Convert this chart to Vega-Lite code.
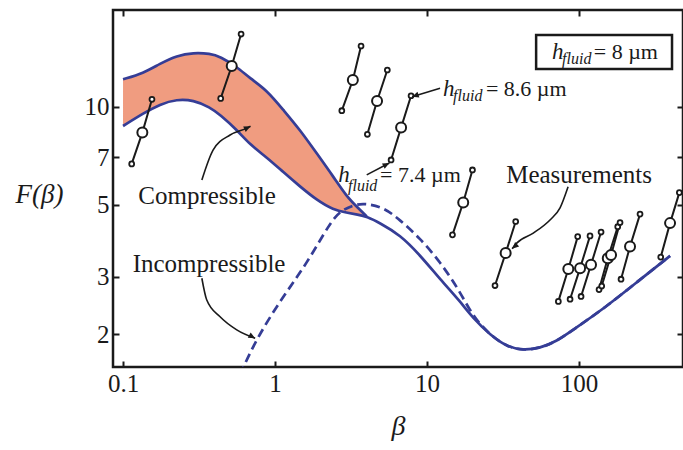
{
  "$schema": "https://vega.github.io/schema/vega-lite/v6.json",
  "width": 570,
  "height": 357,
  "autosize": "none",
  "padding": {"left": 113, "top": 10, "right": 0, "bottom": 83},
  "background": "white",
  "config": {
    "view": {"stroke": "#1a1a1a", "strokeWidth": 2.5},
    "axis": {
      "grid": false,
      "domain": false,
      "labelFont": "Liberation Serif",
      "labelFontSize": 25,
      "labelColor": "#1a1a1a",
      "tickColor": "#1a1a1a",
      "tickWidth": 2,
      "tickSize": -6,
      "titleFont": "Liberation Serif",
      "titleFontStyle": "italic",
      "titleFontWeight": "normal",
      "titleFontSize": 27,
      "titleColor": "#1a1a1a"
    },
    "text": {"font": "Liberation Serif", "color": "#1a1a1a"}
  },
  "datasets": {
    "band": [
      {"beta": 0.1, "lo": 8.74, "hi": 12.17},
      {"beta": 0.136, "lo": 9.56, "hi": 12.7},
      {"beta": 0.175, "lo": 10.2, "hi": 13.6},
      {"beta": 0.226, "lo": 10.56, "hi": 14.4},
      {"beta": 0.29, "lo": 10.5, "hi": 14.7},
      {"beta": 0.374, "lo": 9.98, "hi": 14.6},
      {"beta": 0.435, "lo": 9.46, "hi": 14.3},
      {"beta": 0.56, "lo": 8.51, "hi": 13.3},
      {"beta": 0.685, "lo": 7.65, "hi": 12.25},
      {"beta": 0.882, "lo": 7.0, "hi": 11.28},
      {"beta": 1.134, "lo": 6.3, "hi": 9.79},
      {"beta": 1.46, "lo": 5.69, "hi": 8.5},
      {"beta": 1.88, "lo": 5.17, "hi": 7.2},
      {"beta": 2.42, "lo": 4.82, "hi": 6.1},
      {"beta": 2.96, "lo": 4.73, "hi": 5.3},
      {"beta": 3.5, "lo": 4.66, "hi": 4.9},
      {"beta": 4.01, "lo": 4.6, "hi": 4.6}
    ],
    "curves": [
      {"series": "upper", "beta": 0.1, "F": 12.17},
      {"series": "upper", "beta": 0.136, "F": 12.7},
      {"series": "upper", "beta": 0.175, "F": 13.6},
      {"series": "upper", "beta": 0.226, "F": 14.4},
      {"series": "upper", "beta": 0.29, "F": 14.7},
      {"series": "upper", "beta": 0.374, "F": 14.6},
      {"series": "upper", "beta": 0.435, "F": 14.3},
      {"series": "upper", "beta": 0.56, "F": 13.3},
      {"series": "upper", "beta": 0.685, "F": 12.25},
      {"series": "upper", "beta": 0.882, "F": 11.28},
      {"series": "upper", "beta": 1.134, "F": 9.79},
      {"series": "upper", "beta": 1.46, "F": 8.5},
      {"series": "upper", "beta": 1.88, "F": 7.2},
      {"series": "upper", "beta": 2.42, "F": 6.1},
      {"series": "upper", "beta": 2.96, "F": 5.3},
      {"series": "upper", "beta": 3.5, "F": 4.9},
      {"series": "upper", "beta": 4.01, "F": 4.6},
      {"series": "lower", "beta": 0.1, "F": 8.74},
      {"series": "lower", "beta": 0.136, "F": 9.56},
      {"series": "lower", "beta": 0.175, "F": 10.2},
      {"series": "lower", "beta": 0.226, "F": 10.56},
      {"series": "lower", "beta": 0.29, "F": 10.5},
      {"series": "lower", "beta": 0.374, "F": 9.98},
      {"series": "lower", "beta": 0.435, "F": 9.46},
      {"series": "lower", "beta": 0.56, "F": 8.51},
      {"series": "lower", "beta": 0.685, "F": 7.65},
      {"series": "lower", "beta": 0.882, "F": 7.0},
      {"series": "lower", "beta": 1.134, "F": 6.3},
      {"series": "lower", "beta": 1.46, "F": 5.69},
      {"series": "lower", "beta": 1.88, "F": 5.17},
      {"series": "lower", "beta": 2.42, "F": 4.82},
      {"series": "lower", "beta": 2.96, "F": 4.73},
      {"series": "lower", "beta": 3.5, "F": 4.66},
      {"series": "lower", "beta": 4.01, "F": 4.6},
      {"series": "lower", "beta": 4.91, "F": 4.39},
      {"series": "lower", "beta": 6.64, "F": 4.04},
      {"series": "lower", "beta": 8.99, "F": 3.5},
      {"series": "lower", "beta": 12.18, "F": 2.95},
      {"series": "lower", "beta": 16.5, "F": 2.52},
      {"series": "lower", "beta": 20.07, "F": 2.24},
      {"series": "lower", "beta": 25.97, "F": 1.99},
      {"series": "lower", "beta": 33.4, "F": 1.83},
      {"series": "lower", "beta": 42.8, "F": 1.78},
      {"series": "lower", "beta": 55.4, "F": 1.81},
      {"series": "lower", "beta": 71.3, "F": 1.9},
      {"series": "lower", "beta": 91.3, "F": 2.06},
      {"series": "lower", "beta": 148.3, "F": 2.41},
      {"series": "lower", "beta": 251.9, "F": 2.94},
      {"series": "lower", "beta": 397, "F": 3.48},
      {"series": "incompressible", "beta": 0.588, "F": 1.5},
      {"series": "incompressible", "beta": 0.761, "F": 1.95},
      {"series": "incompressible", "beta": 1.13, "F": 2.61},
      {"series": "incompressible", "beta": 1.62, "F": 3.3},
      {"series": "incompressible", "beta": 2.3, "F": 4.4},
      {"series": "incompressible", "beta": 2.68, "F": 4.78},
      {"series": "incompressible", "beta": 3.3, "F": 5.0},
      {"series": "incompressible", "beta": 3.9, "F": 5.05},
      {"series": "incompressible", "beta": 5.16, "F": 4.92},
      {"series": "incompressible", "beta": 6.64, "F": 4.49},
      {"series": "incompressible", "beta": 8.99, "F": 3.94},
      {"series": "incompressible", "beta": 12.18, "F": 3.34},
      {"series": "incompressible", "beta": 16.5, "F": 2.7},
      {"series": "incompressible", "beta": 20.07, "F": 2.26},
      {"series": "incompressible", "beta": 25.97, "F": 1.99},
      {"series": "incompressible", "beta": 33.4, "F": 1.83},
      {"series": "incompressible", "beta": 42.8, "F": 1.78},
      {"series": "incompressible", "beta": 55.4, "F": 1.81},
      {"series": "incompressible", "beta": 71.3, "F": 1.9},
      {"series": "incompressible", "beta": 91.3, "F": 2.06},
      {"series": "incompressible", "beta": 148.3, "F": 2.41},
      {"series": "incompressible", "beta": 251.9, "F": 2.94},
      {"series": "incompressible", "beta": 397, "F": 3.48}
    ],
    "measurements": [
      {"id": 1, "h": 7.4, "beta": 0.114, "F": 6.68},
      {"id": 1, "h": 8.0, "beta": 0.134, "F": 8.34},
      {"id": 1, "h": 8.6, "beta": 0.155, "F": 10.56},
      {"id": 2, "h": 7.4, "beta": 0.439, "F": 10.63},
      {"id": 2, "h": 8.0, "beta": 0.519, "F": 13.37},
      {"id": 2, "h": 8.6, "beta": 0.598, "F": 16.77},
      {"id": 3, "h": 7.4, "beta": 2.75, "F": 9.74},
      {"id": 3, "h": 8.0, "beta": 3.25, "F": 12.11},
      {"id": 3, "h": 8.6, "beta": 3.68, "F": 15.41},
      {"id": 4, "h": 7.4, "beta": 4.05, "F": 8.24},
      {"id": 4, "h": 8.0, "beta": 4.69, "F": 10.43},
      {"id": 4, "h": 8.6, "beta": 5.48, "F": 13.0},
      {"id": 5, "h": 7.4, "beta": 5.8, "F": 6.87},
      {"id": 5, "h": 8.0, "beta": 6.75, "F": 8.64},
      {"id": 5, "h": 8.6, "beta": 7.85, "F": 10.83},
      {"id": 6, "h": 7.4, "beta": 14.7, "F": 4.04},
      {"id": 6, "h": 8.0, "beta": 17.3, "F": 5.08},
      {"id": 6, "h": 8.6, "beta": 19.9, "F": 6.4},
      {"id": 7, "h": 7.4, "beta": 28.0, "F": 2.82},
      {"id": 7, "h": 8.0, "beta": 32.9, "F": 3.55},
      {"id": 7, "h": 8.6, "beta": 38.3, "F": 4.44},
      {"id": 8, "h": 7.4, "beta": 73.1, "F": 2.52},
      {"id": 8, "h": 8.0, "beta": 85.0, "F": 3.17},
      {"id": 8, "h": 8.6, "beta": 98.0, "F": 3.99},
      {"id": 9, "h": 7.4, "beta": 87.3, "F": 2.56},
      {"id": 9, "h": 8.0, "beta": 101.6, "F": 3.19},
      {"id": 9, "h": 8.6, "beta": 118.1, "F": 4.01},
      {"id": 10, "h": 7.4, "beta": 103.1, "F": 2.61},
      {"id": 10, "h": 8.0, "beta": 119.9, "F": 3.27},
      {"id": 10, "h": 8.6, "beta": 139.6, "F": 4.12},
      {"id": 11, "h": 7.4, "beta": 135.4, "F": 2.74},
      {"id": 11, "h": 8.0, "beta": 154.5, "F": 3.42},
      {"id": 11, "h": 8.6, "beta": 179.7, "F": 4.28},
      {"id": 12, "h": 7.4, "beta": 141.0, "F": 2.81},
      {"id": 12, "h": 8.0, "beta": 162.4, "F": 3.5},
      {"id": 12, "h": 8.6, "beta": 186.1, "F": 4.41},
      {"id": 13, "h": 7.4, "beta": 188.9, "F": 2.95},
      {"id": 13, "h": 8.0, "beta": 216.5, "F": 3.72},
      {"id": 13, "h": 8.6, "beta": 251.9, "F": 4.68},
      {"id": 14, "h": 7.4, "beta": 344.7, "F": 3.45},
      {"id": 14, "h": 8.0, "beta": 397, "F": 4.39},
      {"id": 14, "h": 8.6, "beta": 457, "F": 5.45}
    ],
    "arrows": [
      {"arrow": "compressible", "beta": 0.33, "F": 5.96},
      {"arrow": "compressible", "beta": 0.391, "F": 7.37},
      {"arrow": "compressible", "beta": 0.506, "F": 8.2},
      {"arrow": "compressible", "beta": 0.654, "F": 8.61},
      {"arrow": "compressible", "beta": 0.69, "F": 8.72},
      {"arrow": "incompressible", "beta": 0.33, "F": 2.97},
      {"arrow": "incompressible", "beta": 0.355, "F": 2.55},
      {"arrow": "incompressible", "beta": 0.435, "F": 2.26},
      {"arrow": "incompressible", "beta": 0.56, "F": 2.06},
      {"arrow": "incompressible", "beta": 0.74, "F": 1.94},
      {"arrow": "measurements", "beta": 84.7, "F": 5.68},
      {"arrow": "measurements", "beta": 75.0, "F": 4.89},
      {"arrow": "measurements", "beta": 64.4, "F": 4.49},
      {"arrow": "measurements", "beta": 50.0, "F": 4.09},
      {"arrow": "measurements", "beta": 38.9, "F": 3.81},
      {"arrow": "measurements", "beta": 36.3, "F": 3.66},
      {"arrow": "h86", "beta": 12.18, "F": 11.42},
      {"arrow": "h86", "beta": 7.97, "F": 10.76},
      {"arrow": "h74", "beta": 4.01, "F": 6.18},
      {"arrow": "h74", "beta": 5.65, "F": 6.72}
    ],
    "tips": [
      {"arrow": "compressible", "beta": 0.69, "F": 8.72},
      {"arrow": "incompressible", "beta": 0.74, "F": 1.94},
      {"arrow": "measurements", "beta": 36.3, "F": 3.66},
      {"arrow": "h86", "beta": 7.97, "F": 10.76},
      {"arrow": "h74", "beta": 5.65, "F": 6.72}
    ],
    "labels": [
      {"text": "Compressible", "beta": 0.357, "F": 5.03},
      {"text": "Incompressible", "beta": 0.368, "F": 3.1},
      {"text": "Measurements", "beta": 100, "F": 5.85}
    ],
    "hlabels": [
      {"part": "h", "text": "h", "beta": 12.75, "F": 10.81},
      {"part": "sub", "text": "fluid", "beta": 14.83, "F": 10.45},
      {"part": "rest", "text": "= 8.6 µm", "beta": 24.4, "F": 10.81},
      {"part": "h", "text": "h", "beta": 2.61, "F": 5.89},
      {"part": "sub", "text": "fluid", "beta": 3.02, "F": 5.53},
      {"part": "rest", "text": "= 7.4 µm", "beta": 4.91, "F": 5.89},
      {"part": "h", "text": "h", "beta": 66.4, "F": 14.05},
      {"part": "sub", "text": "fluid", "beta": 77.3, "F": 13.61},
      {"part": "rest", "text": "= 8 µm", "beta": 125, "F": 14.05}
    ],
    "box": [
      {"beta": 52.2, "beta2": 409, "F": 13.09, "F2": 16.65}
    ]
  },
  "layer": [
    {
      "layer": [
        {
          "data": {"name": "band"},
          "mark": {"type": "area", "color": "#f09c80", "interpolate": "basis", "clip": true},
          "encoding": {
            "x": {
              "field": "beta", "type": "quantitative",
              "scale": {"type": "log", "domain": [0.0859, 483], "nice": false},
              "axis": {"orient": "bottom", "values": [0.1, 1, 10, 100], "format": "~g", "labelPadding": 10, "title": "β", "titleFontSize": 28, "titlePadding": 16}
            },
            "y": {
              "field": "lo", "type": "quantitative",
              "scale": {"type": "log", "domain": [1.583, 19.89], "nice": false},
              "axis": {"orient": "left", "values": [2, 3, 5, 7, 10], "labelPadding": 10, "title": "F(β)", "titleAngle": 0, "titleAlign": "center", "titleBaseline": "alphabetic", "titleX": -74, "titleY": 192}
            },
            "y2": {"field": "hi"}
          }
        },
        {
          "data": {"name": "curves"},
          "transform": [{"filter": "datum.series === 'incompressible'"}],
          "mark": {"type": "line", "color": "#353d96", "strokeWidth": 2.7, "strokeDash": [9, 5], "interpolate": "basis", "clip": true},
          "encoding": {
            "x": {"field": "beta", "type": "quantitative"},
            "y": {"field": "F", "type": "quantitative"}
          }
        },
        {
          "data": {"name": "curves"},
          "transform": [{"filter": "datum.series !== 'incompressible'"}],
          "mark": {"type": "line", "color": "#353d96", "strokeWidth": 2.7, "interpolate": "basis", "clip": true},
          "encoding": {
            "x": {"field": "beta", "type": "quantitative"},
            "y": {"field": "F", "type": "quantitative"},
            "detail": {"field": "series"}
          }
        },
        {
          "data": {"name": "measurements"},
          "mark": {"type": "line", "color": "#1a1a1a", "strokeWidth": 2},
          "encoding": {
            "x": {"field": "beta", "type": "quantitative"},
            "y": {"field": "F", "type": "quantitative"},
            "detail": {"field": "id"},
            "order": {"field": "h"}
          }
        },
        {
          "data": {"name": "measurements"},
          "transform": [{"filter": "datum.h !== 8"}],
          "mark": {"type": "point", "shape": "circle", "filled": true, "fill": "white", "stroke": "#1a1a1a", "strokeWidth": 1.8, "size": 24, "opacity": 1},
          "encoding": {
            "x": {"field": "beta", "type": "quantitative"},
            "y": {"field": "F", "type": "quantitative"}
          }
        },
        {
          "data": {"name": "measurements"},
          "transform": [{"filter": "datum.h === 8"}],
          "mark": {"type": "point", "shape": "circle", "filled": true, "fill": "white", "stroke": "#1a1a1a", "strokeWidth": 2, "size": 100, "opacity": 1},
          "encoding": {
            "x": {"field": "beta", "type": "quantitative"},
            "y": {"field": "F", "type": "quantitative"}
          }
        },
        {
          "data": {"name": "arrows"},
          "mark": {"type": "line", "color": "#1a1a1a", "strokeWidth": 1.6, "interpolate": "monotone"},
          "encoding": {
            "x": {"field": "beta", "type": "quantitative"},
            "y": {"field": "F", "type": "quantitative"},
            "detail": {"field": "arrow"}
          }
        },
        {
          "data": {"name": "tips"},
          "transform": [{"filter": "datum.arrow === 'compressible'"}],
          "mark": {"type": "point", "shape": "M0,0L-2,-0.9L-2,0.9Z", "filled": true, "color": "#1a1a1a", "size": 45, "opacity": 1, "angle": 335},
          "encoding": {"x": {"field": "beta", "type": "quantitative"}, "y": {"field": "F", "type": "quantitative"}}
        },
        {
          "data": {"name": "tips"},
          "transform": [{"filter": "datum.arrow === 'incompressible'"}],
          "mark": {"type": "point", "shape": "M0,0L-2,-0.9L-2,0.9Z", "filled": true, "color": "#1a1a1a", "size": 45, "opacity": 1, "angle": 28},
          "encoding": {"x": {"field": "beta", "type": "quantitative"}, "y": {"field": "F", "type": "quantitative"}}
        },
        {
          "data": {"name": "tips"},
          "transform": [{"filter": "datum.arrow === 'measurements'"}],
          "mark": {"type": "point", "shape": "M0,0L-2,-0.9L-2,0.9Z", "filled": true, "color": "#1a1a1a", "size": 45, "opacity": 1, "angle": 138},
          "encoding": {"x": {"field": "beta", "type": "quantitative"}, "y": {"field": "F", "type": "quantitative"}}
        },
        {
          "data": {"name": "tips"},
          "transform": [{"filter": "datum.arrow === 'h86'"}],
          "mark": {"type": "point", "shape": "M0,0L-2,-0.9L-2,0.9Z", "filled": true, "color": "#1a1a1a", "size": 45, "opacity": 1, "angle": 162},
          "encoding": {"x": {"field": "beta", "type": "quantitative"}, "y": {"field": "F", "type": "quantitative"}}
        },
        {
          "data": {"name": "tips"},
          "transform": [{"filter": "datum.arrow === 'h74'"}],
          "mark": {"type": "point", "shape": "M0,0L-2,-0.9L-2,0.9Z", "filled": true, "color": "#1a1a1a", "size": 45, "opacity": 1, "angle": 333},
          "encoding": {"x": {"field": "beta", "type": "quantitative"}, "y": {"field": "F", "type": "quantitative"}}
        },
        {
          "data": {"name": "box"},
          "mark": {"type": "rect", "fill": "white", "stroke": "#1a1a1a", "strokeWidth": 2.5},
          "encoding": {
            "x": {"field": "beta", "type": "quantitative"},
            "x2": {"field": "beta2"},
            "y": {"field": "F", "type": "quantitative"},
            "y2": {"field": "F2"}
          }
        },
        {
          "data": {"name": "labels"},
          "mark": {"type": "text", "fontSize": 25, "align": "center", "baseline": "alphabetic"},
          "encoding": {
            "x": {"field": "beta", "type": "quantitative"},
            "y": {"field": "F", "type": "quantitative"},
            "text": {"field": "text"}
          }
        },
        {
          "data": {"name": "hlabels"},
          "transform": [{"filter": "datum.part === 'h'"}],
          "mark": {"type": "text", "fontSize": 23, "fontStyle": "italic", "align": "left", "baseline": "alphabetic"},
          "encoding": {
            "x": {"field": "beta", "type": "quantitative"},
            "y": {"field": "F", "type": "quantitative"},
            "text": {"field": "text"}
          }
        },
        {
          "data": {"name": "hlabels"},
          "transform": [{"filter": "datum.part === 'sub'"}],
          "mark": {"type": "text", "fontSize": 16, "fontStyle": "italic", "align": "left", "baseline": "alphabetic"},
          "encoding": {
            "x": {"field": "beta", "type": "quantitative"},
            "y": {"field": "F", "type": "quantitative"},
            "text": {"field": "text"}
          }
        },
        {
          "data": {"name": "hlabels"},
          "transform": [{"filter": "datum.part === 'rest'"}],
          "mark": {"type": "text", "fontSize": 22, "align": "left", "baseline": "alphabetic"},
          "encoding": {
            "x": {"field": "beta", "type": "quantitative"},
            "y": {"field": "F", "type": "quantitative"},
            "text": {"field": "text"}
          }
        }
      ]
    },
    {
      "data": {"name": "box"},
      "mark": {"type": "point", "opacity": 0},
      "encoding": {
        "x": {
          "field": "beta", "type": "quantitative",
          "scale": {"type": "log", "domain": [0.0859, 483], "nice": false},
          "axis": {"orient": "top", "values": [0.1, 1, 10, 100], "labels": false, "title": null}
        },
        "y": {
          "field": "F", "type": "quantitative",
          "scale": {"type": "log", "domain": [1.583, 19.89], "nice": false},
          "axis": {"orient": "right", "values": [2, 3, 5, 7, 10], "labels": false, "title": null}
        }
      }
    }
  ],
  "resolve": {"axis": {"x": "independent", "y": "independent"}}
}
